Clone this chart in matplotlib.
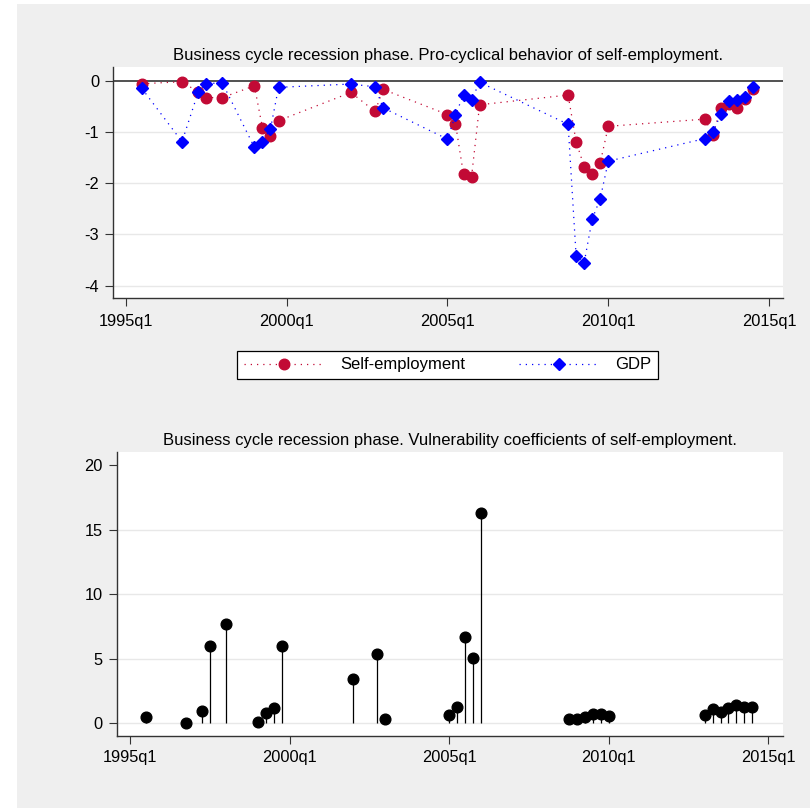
import matplotlib
matplotlib.use("Agg")
import matplotlib.pyplot as plt
from matplotlib.patches import Rectangle
import numpy as np

plt.rcParams["font.family"] = ["Liberation Sans", "DejaVu Sans"]
plt.rcParams["font.size"] = 11.8

# quarters classified as recession phase
quarters = ["1995q3", "1996q4", "1997q2", "1997q3", "1998q1",
            "1999q1", "1999q2", "1999q3", "1999q4",
            "2002q1", "2002q4", "2003q1",
            "2005q1", "2005q2", "2005q3", "2005q4", "2006q1",
            "2008q4", "2009q1", "2009q2", "2009q3", "2009q4", "2010q1",
            "2013q1", "2013q2", "2013q3", "2013q4", "2014q1", "2014q2", "2014q3"]

self_emp = [-0.06, -0.02, -0.22, -0.33, -0.33,
            -0.10, -0.92, -1.07, -0.78,
            -0.23, -0.60, -0.17,
            -0.66, -0.84, -1.83, -1.87, -0.47,
            -0.28, -1.19, -1.68, -1.82, -1.60, -0.89,
            -0.75, -1.05, -0.53, -0.46, -0.53, -0.36, -0.17]

gdp = [-0.15, -1.19, -0.23, -0.06, -0.04,
       -1.30, -1.20, -0.94, -0.13,
       -0.065, -0.12, -0.53,
       -1.14, -0.67, -0.27, -0.37, -0.03,
       -0.85, -3.42, -3.55, -2.70, -2.30, -1.57,
       -1.13, -1.01, -0.65, -0.40, -0.38, -0.31, -0.12]

vulnerability = [0.44, 0.02, 0.95, 6.0, 7.7,
                 0.08, 0.80, 1.14, 6.0,
                 3.43, 5.35, 0.33,
                 0.60, 1.27, 6.67, 5.07, 16.3,
                 0.29, 0.31, 0.44, 0.67, 0.74, 0.52,
                 0.62, 1.06, 0.83, 1.14, 1.40, 1.22, 1.26]

tick_quarters = ["1995q1", "2000q1", "2005q1", "2010q1", "2015q1"]
top_yticks = [0, -1, -2, -3, -4]
bottom_yticks = [0, 5, 10, 15, 20]


def qnum(s):
    # quarters counted from 1995q1
    year, q = s.split("q")
    return (int(year) - 1995) * 4 + int(q) - 1


x = np.array([qnum(s) for s in quarters])
xt = [qnum(s) for s in tick_quarters]

red = "#c20a35"
blue = "#0000ff"
grid_col = "#e8e8e8"
axis_col = "#333333"
title_size = 12.0

fig = plt.figure(figsize=(8.10, 8.08), dpi=100, facecolor="white")
fig.patches.append(Rectangle((17 / 810, 0), 1 - 17 / 810, 1 - 4 / 808,
                             transform=fig.transFigure, facecolor="#efefef",
                             edgecolor="none", zorder=-10))


def style_axes(ax, xpad):
    ax.set_facecolor("white")
    for side in ["top", "right"]:
        ax.spines[side].set_visible(False)
    for side in ["left", "bottom"]:
        ax.spines[side].set_color(axis_col)
        ax.spines[side].set_linewidth(1.0)
    ax.tick_params(length=6, width=0.8, color=axis_col, pad=4, labelsize=11.8)
    ax.tick_params(axis="x", pad=xpad)
    ax.set_xticks(xt)
    ax.set_xticklabels(tick_quarters)


# upper panel
ax1 = fig.add_axes([113 / 810, 1 - 298 / 808, 670 / 810, 231 / 808])
style_axes(ax1, 5.5)
ax1.set_xlim(-1.58, 81.72)
ax1.set_ylim(-4.24, 0.267)
ax1.set_yticks(top_yticks)
ax1.set_yticklabels([str(v) for v in top_yticks])
for v in top_yticks[1:]:
    ax1.axhline(v, color=grid_col, lw=1.0, zorder=0)
ax1.axhline(0, color=axis_col, lw=1.2, zorder=1)
ax1.plot(x, self_emp, color=red, ls=(0, (1, 4)), lw=0.9, marker="o", ms=7.6,
         mec=red, mfc=red, label="Self-employment", zorder=3)
ax1.plot(x, gdp, color=blue, ls=(0, (1, 4)), lw=0.9, marker="D", ms=6.2,
         mec=blue, mfc=blue, label="GDP", zorder=4)
ax1.set_title("Business cycle recession phase. Pro-cyclical behavior of self-employment.",
              fontsize=title_size, pad=5)

handles, labels = ax1.get_legend_handles_labels()
leg = fig.legend(handles, labels, loc="lower left", ncol=2, mode="expand",
                 bbox_to_anchor=(237 / 810, 1 - 379 / 808, 421 / 810, 40 / 808),
                 borderaxespad=0, numpoints=1, handlelength=4.8,
                 handletextpad=1.0, fancybox=False, framealpha=1,
                 edgecolor="black", fontsize=12.0)
leg.get_frame().set_linewidth(0.9)

# lower panel
ax2 = fig.add_axes([116.7 / 810, 1 - 735.7 / 808, 666.3 / 810, 284 / 808])
style_axes(ax2, 4.5)
ax2.set_xlim(-1.67, 81.83)
ax2.set_ylim(-0.98, 21.03)
ax2.set_yticks(bottom_yticks)
ax2.set_yticklabels([str(v) for v in bottom_yticks])
for v in bottom_yticks[:-1]:
    ax2.axhline(v, color=grid_col, lw=1.0, zorder=0)
ax2.vlines(x, 0, vulnerability, color="black", lw=0.9, zorder=2)
ax2.plot(x, vulnerability, ls="none", marker="o", ms=7.7, color="black", zorder=3)
ax2.set_title("Business cycle recession phase. Vulnerability coefficients of self-employment.",
              fontsize=title_size, pad=5)

fig.savefig("out.png", dpi=100, facecolor=fig.get_facecolor())
